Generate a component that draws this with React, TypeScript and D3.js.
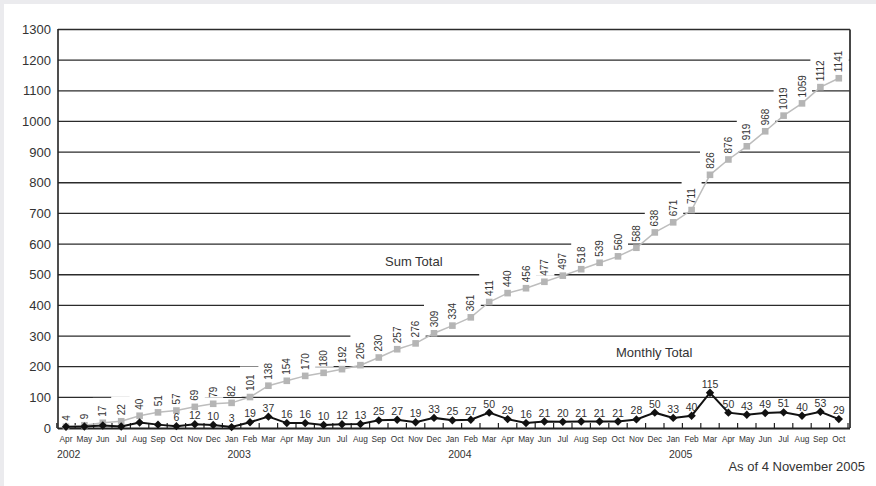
import React from "react";
import * as d3 from "d3";

const monthLabels = [
  "Apr", "May", "Jun", "Jul", "Aug", "Sep", "Oct", "Nov", "Dec",
  "Jan", "Feb", "Mar", "Apr", "May", "Jun", "Jul", "Aug", "Sep", "Oct", "Nov", "Dec",
  "Jan", "Feb", "Mar", "Apr", "May", "Jun", "Jul", "Aug", "Sep", "Oct", "Nov", "Dec",
  "Jan", "Feb", "Mar", "Apr", "May", "Jun", "Jul", "Aug", "Sep", "Oct",
];
const yearLabels = ["2002", "2003", "2004", "2005"];
const yearStartIndex = [0, 9, 21, 33];

const sumTotal = [
  4, 9, 17, 22, 40, 51, 57, 69, 79,
  82, 101, 138, 154, 170, 180, 192, 205, 230, 257, 276, 309,
  334, 361, 411, 440, 456, 477, 497, 518, 539, 560, 588, 638,
  671, 711, 826, 876, 919, 968, 1019, 1059, 1112, 1141,
];
const monthlyTotal = [
  4, 5, 8, 5, 18, 11, 6, 12, 10,
  3, 19, 37, 16, 16, 10, 12, 13, 25, 27, 19, 33,
  25, 27, 50, 29, 16, 21, 20, 21, 21, 21, 28, 50,
  33, 40, 115, 50, 43, 49, 51, 40, 53, 29,
];
const monthlyLabelFrom = 6;
const yTicks = [0, 100, 200, 300, 400, 500, 600, 700, 800, 900, 1000, 1100, 1200, 1300];
const seriesNames = ["Sum Total", "Monthly Total"];
const footnote = "As of 4 November 2005";

const W = 876;
const H = 486;
const FONT = "'Liberation Sans', Arial, Helvetica, sans-serif";
const TEXT = "#333";
const GRID = "#2b2b2b";

export default function App() {
  const idx = d3.range(monthLabels.length);
  const x = d3.scaleBand<number>().domain(idx).range([56.8, 848]);
  const step = x.step();
  const xc = (i: number) => (x(i) as number) + x.bandwidth() / 2;
  const y = d3.scaleLinear().domain([0, 1300]).range([428, 29.5]);
  const left = 58;
  const right = 850;

  const sumLine = d3
    .line<number>()
    .x((_, i) => xc(i))
    .y((d) => y(d));
  const monthLine = d3
    .line<number>()
    .x((_, i) => xc(i))
    .y((d) => y(d));

  const sumFont = 10;
  const monthFont = 10.5;
  const digitW = 0.556;

  return (
    <div style={{ position: "fixed", left: 0, top: 0, width: W, height: H }}>
      <svg width={W} height={H} style={{ display: "block" }} fontFamily={FONT}>
        <rect x={0} y={0} width={W} height={H} fill="#ebebee" />
        <rect x={4} y={4} width={W - 4} height={H - 4} fill="#ffffff" />

        {/* gridlines */}
        {yTicks.filter((t) => t > 0).map((t) => (
          <line key={"g" + t} x1={left} x2={right} y1={y(t)} y2={y(t)} stroke={GRID} strokeWidth={1.3} />
        ))}

        {/* white boxes behind sum labels (hide gridlines) */}
        {sumTotal.map((v, i) => {
          const len = String(v).length * digitW * sumFont;
          const bottom = y(v) - 6;
          const top = bottom - len - 7.8;
          return <rect key={"b" + i} x={xc(i) - 10} y={top} width={20} height={bottom - top} fill="#fff" />;
        })}

        {/* axes and border */}
        <line x1={right} x2={right} y1={y(1300)} y2={y(0)} stroke="#333" strokeWidth={1.8} />
        <line x1={left} x2={left} y1={y(1300) - 0.6} y2={y(0) + 1} stroke="#222" strokeWidth={1.6} />
        <line x1={left} x2={right} y1={y(0) + 0.5} y2={y(0) + 0.5} stroke="#222" strokeWidth={2} />
        {d3.range(monthLabels.length + 1).map((k) => {
          const xx = 56.8 + k * step;
          return <line key={"t" + k} x1={xx} x2={xx} y1={y(0)} y2={y(0) - 5} stroke="#222" strokeWidth={1.2} />;
        })}

        {/* sum total series */}
        <path d={sumLine(sumTotal) || ""} fill="none" stroke="#bdbdbd" strokeWidth={1.5} />
        {sumTotal.map((v, i) => (
          <rect key={"s" + i} x={xc(i) - 3.3} y={y(v) - 3.3} width={6.6} height={6.6} fill="#b5b5b5" />
        ))}

        {/* monthly series */}
        <path d={monthLine(monthlyTotal) || ""} fill="none" stroke="#111" strokeWidth={2} />
        {monthlyTotal.map((v, i) => {
          const cx = xc(i);
          const cy = y(v);
          const r = 4.2;
          return (
            <path key={"m" + i} d={`M${cx},${cy - r}L${cx + r},${cy}L${cx},${cy + r}L${cx - r},${cy}Z`} fill="#111" />
          );
        })}

        {/* sum labels */}
        {sumTotal.map((v, i) => (
          <text
            key={"sl" + i}
            transform={`translate(${xc(i) + 3.6},${y(v) - 6}) rotate(-90)`}
            fontSize={sumFont}
            fill={TEXT}
          >
            {v}
          </text>
        ))}

        {/* monthly labels */}
        {monthlyTotal.map((v, i) =>
          i >= monthlyLabelFrom ? (
            <text key={"ml" + i} x={xc(i)} y={y(v) - 5} fontSize={monthFont} fill={TEXT} textAnchor="middle">
              {v}
            </text>
          ) : null
        )}

        {/* y tick labels */}
        {yTicks.map((t) => (
          <text key={"yl" + t} x={51} y={y(t)} dy="0.35em" fontSize={13} fill={TEXT} textAnchor="end">
            {t}
          </text>
        ))}

        {/* month labels */}
        {monthLabels.map((m, i) => (
          <text key={"xl" + i} x={xc(i)} y={441.5} fontSize={8.3} fill={TEXT} textAnchor="middle">
            {m}
          </text>
        ))}

        {/* year labels */}
        {yearLabels.map((yl, k) => (
          <text
            key={"yr" + k}
            x={(x(yearStartIndex[k]) as number) + (yearStartIndex[k] === 0 ? 0.2 : 5)}
            y={458.3}
            fontSize={10.5}
            fill={TEXT}
          >
            {yl}
          </text>
        ))}

        {/* series annotations */}
        <text x={385} y={266} fontSize={13} fill={TEXT}>
          {seriesNames[0]}
        </text>
        <text x={616} y={357} fontSize={13} fill={TEXT}>
          {seriesNames[1]}
        </text>

        <text x={865} y={471} fontSize={13} fill={TEXT} textAnchor="end">
          {footnote}
        </text>
      </svg>
    </div>
  );
}
